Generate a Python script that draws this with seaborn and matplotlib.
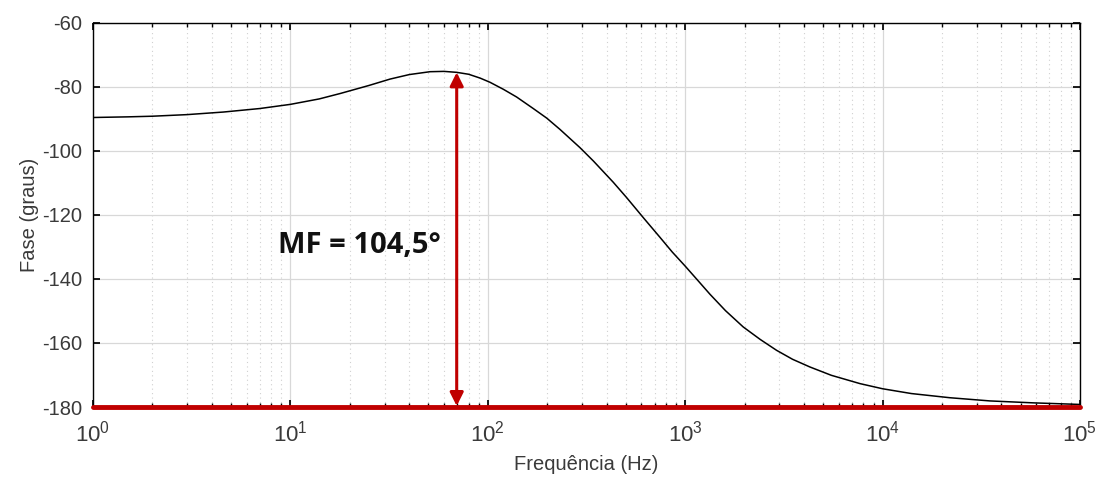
import numpy as np
import pandas as pd
import matplotlib
matplotlib.use("Agg")
import matplotlib.pyplot as plt
import seaborn as sns
from matplotlib.ticker import LogLocator, FixedLocator

# ---- data ----
freq_hz = [1, 1.5, 2, 3, 4.57, 7, 10, 14, 17.9, 25, 32, 40, 51, 60, 69.6, 80, 91.5,
           102.6, 120, 140, 170, 199, 232, 293, 343, 432, 505, 620, 745, 860, 1000,
           1160, 1336, 1600, 1968, 2400, 2905, 3500, 4285, 5500, 7690, 10000,
           14000, 21900, 35000, 57700, 100000]
phase_deg = [-89.6, -89.4, -89.2, -88.7, -87.9, -86.8, -85.5, -83.8, -82.1, -79.6,
             -77.6, -76.2, -75.3, -75.2, -75.5, -76.1, -77.3,
             -78.6, -80.8, -83.2, -86.8, -89.8, -93.3, -99.0, -103.2, -109.8, -114.6,
             -121.2, -127.0, -131.6, -136.0,
             -140.5, -144.8, -149.9, -155.0, -158.9, -162.3, -165.1, -167.5,
             -170.1, -172.7, -174.3,
             -175.8, -177.1, -178.1, -178.7, -179.2]
y_ticks = [-180, -160, -140, -120, -100, -80, -60]
x_ticks = [1, 10, 100, 1000, 10000, 100000]
margin_freq = 69.6
margin_top = -75.5
margin_bottom = -180
annotation = "MF = 104,5°"

df = pd.DataFrame({"f": freq_hz, "phase": phase_deg})

sns.set_theme(style="white")
plt.rcParams["font.family"] = ["Liberation Sans", "DejaVu Sans"]
plt.rcParams["mathtext.fontset"] = "custom"
plt.rcParams["mathtext.rm"] = "Liberation Sans"
plt.rcParams["mathtext.it"] = "Liberation Sans"
plt.rcParams["axes.unicode_minus"] = False

fig = plt.figure(figsize=(11.03, 4.79), dpi=100)
ax = fig.add_axes([0.0843, 0.1503, 0.8948, 0.8023])

sns.lineplot(data=df, x="f", y="phase", ax=ax, color="black", linewidth=1.1, zorder=3)
ax.set_xscale("log")
ax.set_xlim(1, 1e5)
ax.set_ylim(-180, -60)

ax.xaxis.set_major_locator(FixedLocator(x_ticks))
ax.xaxis.set_minor_locator(LogLocator(base=10, subs=np.arange(2, 10)))
ax.set_xticklabels([r"$10^{%d}$" % int(np.log10(v)) for v in x_ticks])
ax.yaxis.set_major_locator(FixedLocator(y_ticks))

ax.grid(True, which="major", axis="both", color="#d8d8d8", linewidth=0.9, linestyle="-")
ax.grid(True, which="minor", axis="x", color="#d0d0d0", linewidth=0.8, linestyle=(0, (1, 3)))
ax.set_axisbelow(True)

ax.tick_params(axis="both", which="both", direction="in", top=True, right=True,
               bottom=True, left=True, colors="black", labelcolor="#3a3a3a")
ax.tick_params(axis="y", labelsize=14.5, pad=8)
ax.tick_params(axis="x", labelsize=16, pad=10)
ax.tick_params(which="major", length=5)
ax.tick_params(which="minor", length=3)

for s in ax.spines.values():
    s.set_color("black")
    s.set_linewidth(1.0)

ax.set_xlabel("Frequência (Hz)", fontsize=14.5, color="#3a3a3a", labelpad=6)
ax.set_ylabel("Fase (graus)", fontsize=14.5, color="#3a3a3a", labelpad=2)

# red reference line and margin arrow
ax.axhline(margin_bottom, color="#c00000", linewidth=3.5, zorder=4, clip_on=False)
ax.annotate("", xy=(margin_freq, margin_top), xytext=(margin_freq, margin_bottom + 0.3),
            arrowprops=dict(arrowstyle="<|-|>", color="#c00000", lw=2.2,
                            mutation_scale=20, shrinkA=0, shrinkB=0), zorder=5)

ax.text(8.65, -129.5, annotation, fontsize=21, fontweight="bold",
        family=["Open Sans", "DejaVu Sans"], color="#111111", va="center", ha="left")

fig.savefig("out.png", dpi=100, facecolor="white")
